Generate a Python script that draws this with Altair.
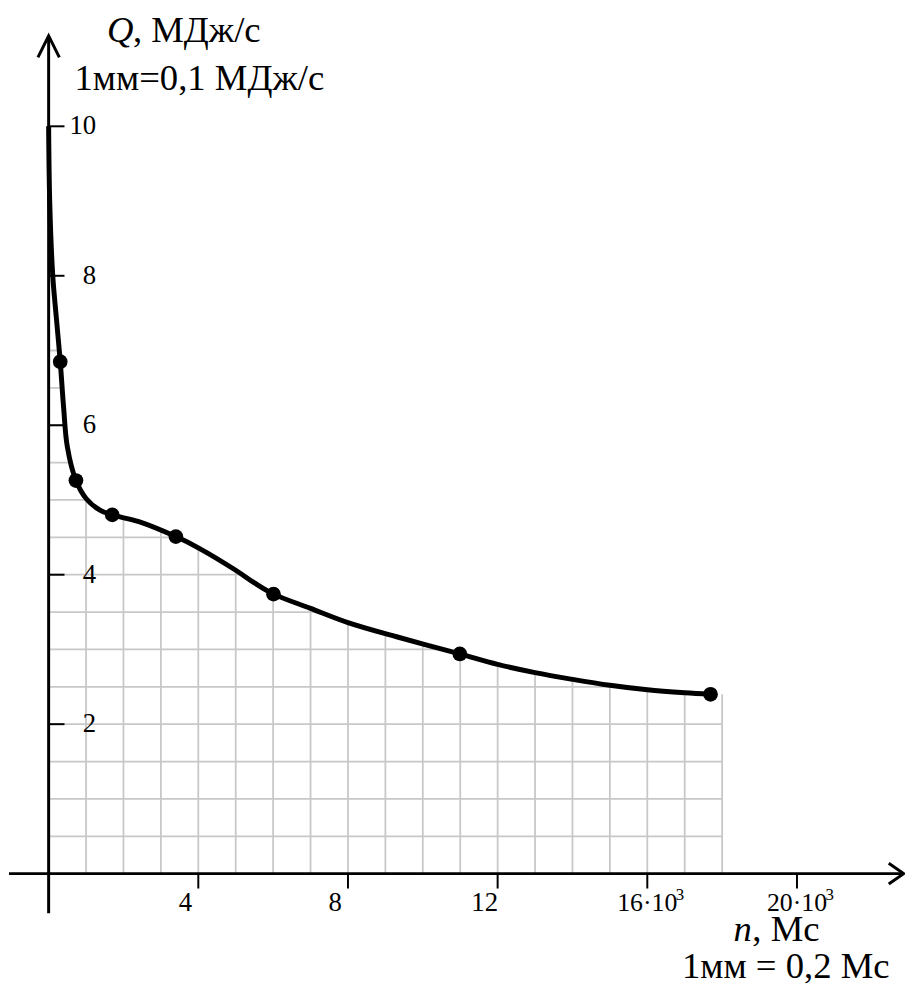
import altair as alt
import pandas as pd

# ---- data (x in 10^3 Мс, y in МДж/с) ----
curve_x = [0.0, 0.03, 0.11, 0.20, 0.31, 0.40, 0.50, 0.73, 1.00, 1.35, 1.70, 2.41,
           3.40, 4.00, 5.00, 5.50, 6.01, 7.00, 8.00, 9.30, 10.99, 12.00, 13.00,
           14.00, 15.00, 16.00, 17.00, 17.69]
curve_y = [10.0, 8.97, 8.00, 7.47, 6.85, 6.24, 5.71, 5.26, 5.02, 4.87, 4.80, 4.71,
           4.51, 4.36, 4.06, 3.89, 3.74, 3.55, 3.36, 3.17, 2.94, 2.80, 2.69,
           2.60, 2.52, 2.46, 2.42, 2.40]
point_x = [0.31, 0.73, 1.70, 3.40, 6.01, 10.99, 17.69]
point_y = [6.85, 5.26, 4.80, 4.51, 3.74, 2.94, 2.40]

y_ticks = [2, 4, 6, 8, 10]
y_labels = ["2", "4", "6", "8", "10"]
x_ticks_plain = [4, 8, 12]
x_labels_plain = ["4", "8", "12"]
x_ticks_pow = [16, 20]
x_labels_pow = ["16·10", "20·10"]

grid_x = list(range(1, 19))               # vertical grid lines, 1 unit apart
grid_y = [0.5 * i for i in range(1, 15)]  # horizontal grid lines, 0.5 apart
grid_xmax = 18

# ---- layout / style ----
W, H = 905, 979
PX_X = 37.75   # px per x unit
PX_Y = 75.4    # px per y unit
X0_PX, Y0_PX = 41, 869   # origin inside the svg
xmin = -X0_PX / PX_X
xmax = xmin + W / PX_X
ymax = Y0_PX / PX_Y
ymin = ymax - H / PX_Y
FONT = "Liberation Serif"
GRID = "#c8c8c8"
INTERP = "catmull-rom"

xs = alt.Scale(domain=[xmin, xmax], nice=False, zero=False)
ys = alt.Scale(domain=[ymin, ymax], nice=False, zero=False)


def X(f):
    return alt.X(f, type="quantitative", scale=xs, axis=None)


def Y(f):
    return alt.Y(f, type="quantitative", scale=ys, axis=None)


df_curve = pd.DataFrame({"x": curve_x, "y": curve_y})
df_pts = pd.DataFrame({"x": point_x, "y": point_y})
df_cover = pd.DataFrame({"x": curve_x + [grid_xmax + 0.2],
                         "y": curve_y + [curve_y[-1]], "top": ymax})
df_vgrid = pd.DataFrame({"x": [float(v) for v in grid_x], "y0": 0.0, "y1": 10.6})
df_hgrid = pd.DataFrame({"y": grid_y, "x0": 0.0, "x1": float(grid_xmax)})

# axis frame (decoration)
df_yaxis = pd.DataFrame({"x": [0.0], "y0": [-0.53], "y1": [11.2]})
df_xaxis = pd.DataFrame({"y": [0.0], "x0": [-1.06], "x1": [22.84]})
df_yarrow = pd.DataFrame({"x": [0.0], "y": [11.21]})
df_xarrow = pd.DataFrame({"x": [22.85], "y": [0.0]})

df_yt = pd.DataFrame({"v": [float(v) for v in y_ticks], "t": y_labels,
                      "x0": 0.0, "x1": 16 / PX_X})
df_xt = pd.DataFrame({"v": [float(v) for v in x_ticks_plain], "t": x_labels_plain,
                      "y": 0.0})
df_xp = pd.DataFrame({"v": [float(v) for v in x_ticks_pow], "t": x_labels_pow,
                      "y": 0.0, "s": "3"})
df_xall = pd.DataFrame({"v": [float(v) for v in x_ticks_plain + x_ticks_pow],
                        "y0": 0.0, "y1": -15 / PX_Y})

vgrid = alt.Chart(df_vgrid).mark_rule(color=GRID, strokeWidth=1.8).encode(
    x=X("x"), y=Y("y0"), y2="y1")
hgrid = alt.Chart(df_hgrid).mark_rule(color=GRID, strokeWidth=1.8).encode(
    y=Y("y"), x=X("x0"), x2="x1")
cover = alt.Chart(df_cover).mark_area(color="white", interpolate=INTERP).encode(
    x=X("x"), y=Y("y"), y2="top")

yaxis = alt.Chart(df_yaxis).mark_rule(color="black", strokeWidth=3).encode(
    x=X("x"), y=Y("y0"), y2="y1")
xaxis = alt.Chart(df_xaxis).mark_rule(color="black", strokeWidth=2.8).encode(
    y=Y("y"), x=X("x0"), x2="x1")
yarrow = alt.Chart(df_yarrow).mark_point(
    shape="M-0.5,1L0,0L0.5,1", filled=False, color="black", strokeWidth=3,
    size=1866, opacity=1).encode(x=X("x"), y=Y("y"))
xarrow = alt.Chart(df_xarrow).mark_point(
    shape="M-1,-0.7L0,0L-1,0.7", filled=False, color="black", strokeWidth=3,
    size=900, opacity=1).encode(x=X("x"), y=Y("y"))

ytick = alt.Chart(df_yt).mark_rule(color="black", strokeWidth=2).encode(
    y=Y("v"), x=X("x0"), x2="x1")
ylab = alt.Chart(df_yt).mark_text(font=FONT, fontSize=27, align="right",
                                  baseline="middle", dx=48, color="black").encode(
    y=Y("v"), x=X("x0"), text="t:N")
xtick = alt.Chart(df_xall).mark_rule(color="black", strokeWidth=2).encode(
    x=X("v"), y=Y("y0"), y2="y1")
xlab = alt.Chart(df_xt).mark_text(font=FONT, fontSize=27, align="center",
                                  baseline="middle", dx=-13, dy=30, color="black").encode(
    x=X("v"), y=Y("y"), text="t:N")
xlabp = alt.Chart(df_xp).mark_text(font=FONT, fontSize=26, align="center",
                                   baseline="middle", dy=30, color="black").encode(
    x=X("v"), y=Y("y"), text="t:N")
xsup = alt.Chart(df_xp).mark_text(font=FONT, fontSize=17, align="center",
                                  baseline="middle", dx=33, dy=22, color="black").encode(
    x=X("v"), y=Y("y"), text="s:N")

line = alt.Chart(df_curve).mark_line(color="black", strokeWidth=5,
                                     interpolate=INTERP).encode(
    x=X("x"), y=Y("y"))
pts = alt.Chart(df_pts).mark_circle(color="black", size=220, opacity=1).encode(
    x=X("x"), y=Y("y"))

# annotation texts, positioned in svg pixels
df_titles = pd.DataFrame({
    "s": ["Q", ", МДж/с", "1мм=0,1 МДж/с", "n", ", Мс", "1мм = 0,2 Мс"],
    "px": [100, 126, 67, 732, 751, 680],
    "py": [30, 30, 78, 937, 937, 974],
    "it": [True, False, False, True, False, False],
})
titles_it = alt.Chart(df_titles[df_titles.it]).mark_text(
    font=FONT, fontSize=37, align="left", baseline="alphabetic",
    fontStyle="italic", color="black").encode(
    x=alt.X("px:Q", scale=None, axis=None), y=alt.Y("py:Q", scale=None, axis=None),
    text="s:N")
titles_n = alt.Chart(df_titles[~df_titles.it]).mark_text(
    font=FONT, fontSize=37, align="left", baseline="alphabetic",
    color="black").encode(
    x=alt.X("px:Q", scale=None, axis=None), y=alt.Y("py:Q", scale=None, axis=None),
    text="s:N")

chart = alt.layer(
    vgrid, hgrid, cover, yaxis, xaxis, yarrow, xarrow, ytick, ylab,
    xtick, xlab, xlabp, xsup, line, pts, titles_it, titles_n
).resolve_scale(x="independent", y="independent").properties(
    width=W, height=H, padding=0,
    autosize=alt.AutoSizeParams(type="none")
).configure_view(stroke=None)

chart.save("out.html", embed_options={"renderer": "svg", "actions": False})
